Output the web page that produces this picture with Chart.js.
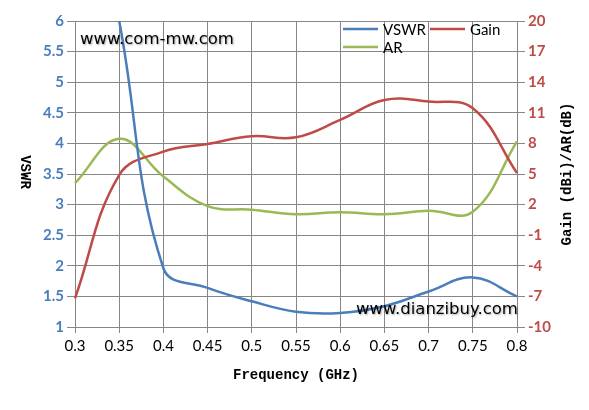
<!DOCTYPE html>
<html lang="en">
<head>
  <meta charset="UTF-8" />
  <title>VSWR / Gain / AR</title>
  <script src="https://cdn.jsdelivr.net/npm/chart.js@4.4.0/dist/chart.umd.min.js"></script>
  <style>
    body { margin: 0; background: #fff; }
    .box { width: 589px; height: 410px; position: relative; }
  </style>
</head>
<body>
  <div class="box"><canvas id="chart"></canvas></div>
  <script>
    // frequency points (GHz)
    const freqs = ['0.3', '0.35', '0.4', '0.45', '0.5', '0.55', '0.6', '0.65', '0.7', '0.75', '0.8'];
    // VSWR, left axis (first point is above the top of the chart)
    const vswr = [9.5, 6.0, 1.96, 1.64, 1.42, 1.25, 1.23, 1.34, 1.58, 1.81, 1.5];
    // Gain (dBi), right axis
    const gain = [-7.2, 4.9, 7.2, 7.95, 8.7, 8.6, 10.3, 12.25, 12.1, 11.45, 5.1];
    // AR (dB), right axis
    const ar = [4.1, 8.45, 4.75, 1.85, 1.5, 1.05, 1.25, 1.05, 1.4, 1.3, 8.2];

    const leftTicks = { min: 1, max: 6, step: 0.5 };
    const rightTicks = { min: -10, max: 20, step: 3 };

    const gridColor = '#868686';

    // titles, legend and watermarks drawn on top
    const extras = {
      id: 'extras',
      afterDraw(chart) {
        const ctx = chart.ctx;
        ctx.save();
        // y titles
        ctx.fillStyle = '#000';
        ctx.font = 'bold 14px "Liberation Mono"';
        ctx.textAlign = 'center';
        ctx.textBaseline = 'middle';
        ctx.save();
        ctx.translate(25, 172);
        ctx.rotate(Math.PI / 2);
        ctx.fillText('VSWR', 0, 0);
        ctx.restore();
        ctx.save();
        ctx.translate(567, 174);
        ctx.rotate(-Math.PI / 2);
        ctx.fillText('Gain (dBi)/AR(dB)', 0, 0);
        ctx.restore();

        // legend
        const ds = chart.data.datasets;
        const spots = [[343, 29], [430, 29], [343, 47]];
        ctx.font = '15px Lato';
        ctx.textAlign = 'left';
        ds.forEach((d, i) => {
          const [x, y] = spots[i];
          ctx.strokeStyle = d.borderColor;
          ctx.lineWidth = 2.5;
          ctx.beginPath();
          ctx.moveTo(x, y);
          ctx.lineTo(x + 35, y);
          ctx.stroke();
          ctx.fillStyle = '#000';
          ctx.fillText(d.label, x + 40, y + 1);
        });

        // watermarks
        ctx.font = '16.5px "DejaVu Sans"';
        ctx.shadowColor = 'rgba(0,0,0,0.35)';
        ctx.shadowBlur = 2;
        ctx.shadowOffsetX = 1;
        ctx.shadowOffsetY = 1;
        ctx.fillStyle = '#000';
        ctx.fillText('www.com-mw.com', 80, 40);
        ctx.fillText('www.dianzibuy.com', 356, 310);
        ctx.restore();
      }
    };

    new Chart(document.getElementById('chart'), {
      type: 'line',
      data: {
        labels: freqs,
        datasets: [
          { label: 'VSWR', data: vswr, yAxisID: 'y', borderColor: '#4a7ebb' },
          { label: 'Gain', data: gain, yAxisID: 'y1', borderColor: '#be4b48' },
          { label: 'AR', data: ar, yAxisID: 'y1', borderColor: '#98b954' }
        ]
      },
      options: {
        responsive: true,
        maintainAspectRatio: false,
        animation: false,
        layout: { padding: { top: 21, left: 0, right: 0, bottom: 0 } },
        elements: {
          point: { radius: 0 },
          line: { borderWidth: 2.5, tension: 0.4, fill: false }
        },
        plugins: {
          legend: { display: false },
          tooltip: { enabled: false }
        },
        scales: {
          x: {
            offset: false,
            grid: { color: gridColor, tickLength: 6 },
            border: { color: gridColor },
            ticks: { color: '#000', font: { family: 'Lato', size: 15 }, padding: 4, maxRotation: 0 },
            title: {
              display: true,
              text: 'Frequency (GHz)',
              color: '#000',
              font: { family: 'Liberation Mono', size: 14, weight: 'bold' },
              padding: { top: 0, bottom: 26 }
            },
            afterFit(s) { s.height = 83; }
          },
          y: {
            position: 'left',
            min: leftTicks.min,
            max: leftTicks.max,
            grid: { color: gridColor, tickLength: 8 },
            border: { color: gridColor },
            ticks: {
              stepSize: leftTicks.step,
              color: '#4a7ebb',
              font: { family: 'Lato', size: 15, weight: 'bold' },
              padding: 3,
              callback: v => String(Number(v.toFixed(1)))
            },
            afterFit(s) { s.width = 75; }
          },
          y1: {
            position: 'right',
            min: rightTicks.min,
            max: rightTicks.max,
            grid: { color: gridColor, tickLength: 8, drawOnChartArea: false },
            border: { color: gridColor },
            ticks: {
              stepSize: rightTicks.step,
              color: '#be4b48',
              font: { family: 'Lato', size: 15, weight: 'bold' },
              padding: 3
            },
            afterFit(s) { s.width = 72; }
          }
        }
      },
      plugins: [extras]
    });
  </script>
</body>
</html>
